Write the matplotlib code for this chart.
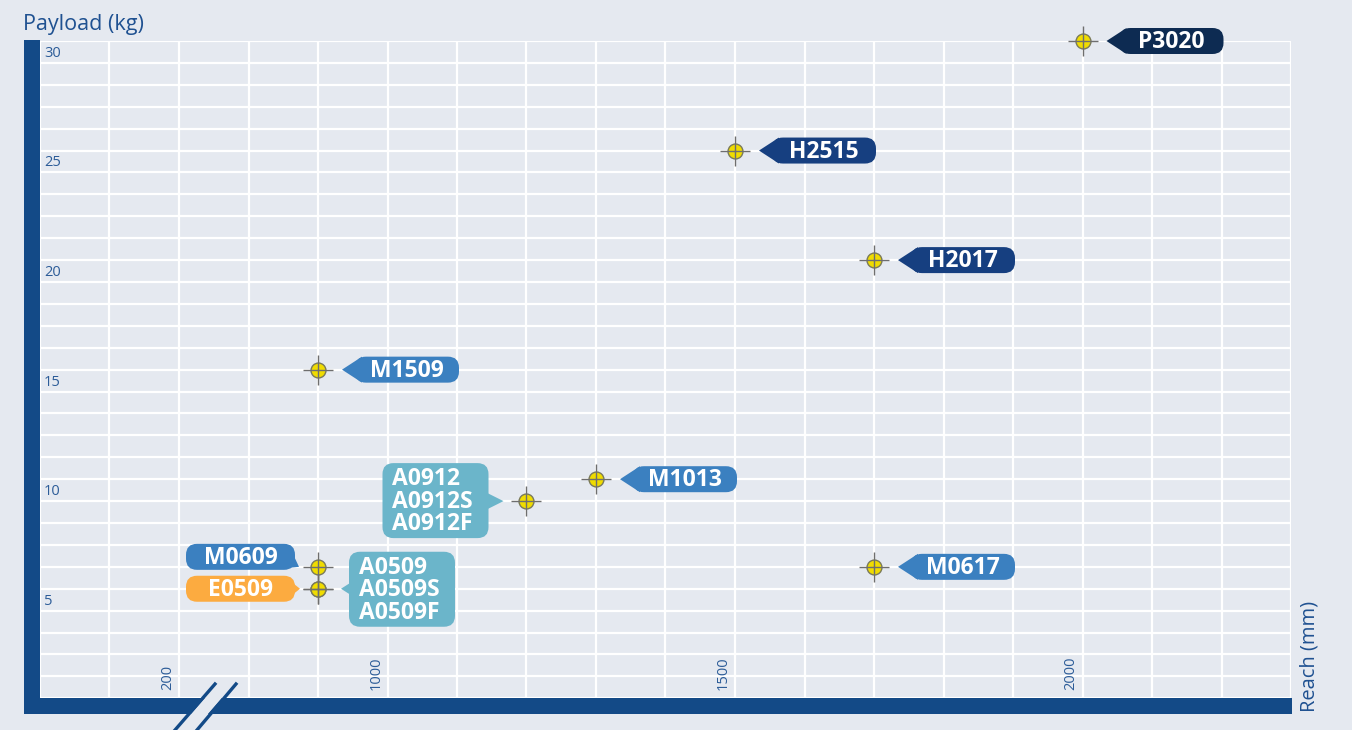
import matplotlib
matplotlib.use("Agg")
import matplotlib.pyplot as plt
import matplotlib.transforms as mtransforms
from matplotlib.patches import FancyBboxPatch, Polygon, Rectangle

# robot models: reach (mm) vs payload (kg)
models = ["P3020", "H2515", "H2017", "M1509", "M1013",
          "A0912\nA0912S\nA0912F", "M0609", "E0509", "M0617",
          "A0509\nA0509S\nA0509F"]
series = ["P", "H", "H", "M", "M", "A", "M", "E", "M", "A"]
reach = [2000, 1500, 1700, 900, 1300, 1200, 900, 900, 1700, 900]
payload = [30, 25, 20, 15, 10, 9, 6, 5, 6, 5]

xtick_pos = [700, 1000, 1500, 2000]
xtick_labels = ["200", "1000", "1500", "2000"]
ytick_vals = [5, 10, 15, 20, 25, 30]

series_colors = {"P": "#0d2b52", "H": "#163f80", "M": "#3b80c0",
                 "A": "#6bb5ca", "E": "#fcab40"}

BG = "#e5e9f0"
BAR = "#134a87"
TXT = "#2c5c98"
W, H = 1352, 730

plt.rcParams["font.family"] = ["Open Sans", "DejaVu Sans"]

fig = plt.figure(figsize=(W / 100, H / 100), dpi=100, facecolor=BG)


def fx(px):
    return px / W


def fy(py):
    return 1 - py / H


ax = fig.add_axes([fx(40), fy(698.3), fx(1291) - fx(40), fy(41) - fy(698.3)])
ax.set_facecolor(BG)
ax.set_xlim(500, 2300)
ax.set_ylim(0, 30)
ax.set_xticks(range(500, 2301, 100))
ax.set_yticks(range(0, 31))
ax.tick_params(length=0, labelbottom=False, labelleft=False)
ax.grid(True, color="white", lw=1.6, zorder=0)
ax.set_axisbelow(True)
for s in ax.spines.values():
    s.set_visible(False)

# thick axis bars
fig.add_artist(Rectangle((fx(24), fy(714.3)), fx(16), fy(40) - fy(714.3),
                         transform=fig.transFigure, color=BAR, lw=0))
fig.add_artist(Rectangle((fx(24), fy(714.3)), fx(1291.5) - fx(24), fy(698.3) - fy(714.3),
                         transform=fig.transFigure, color=BAR, lw=0))

# axis break
brk = [(177, 730), (217, 684), (234, 684), (194, 730)]
fig.add_artist(Polygon([(fx(a), fy(b)) for a, b in brk], closed=True,
                       transform=fig.transFigure, color=BG, lw=0))
for (a0, b0), (a1, b1) in [((175, 730), (215, 684)), ((197, 730), (236, 684))]:
    fig.add_artist(plt.Line2D([fx(a0), fx(a1)], [fy(b0), fy(b1)],
                              transform=fig.transFigure, color=BAR, lw=2.4))

# tick labels inside the plot
for v in ytick_vals:
    ax.annotate(str(v), xy=(0, v), xycoords=("axes fraction", "data"),
                xytext=(3, -3.5), textcoords="offset points",
                ha="left", va="top", fontsize=10.5, color=TXT)
for p, lab in zip(xtick_pos, xtick_labels):
    ax.annotate(lab, xy=(p, 0), xytext=(-3, 6), textcoords="offset points",
                rotation=90, ha="right", va="bottom", fontsize=10.5, color=TXT)

fig.text(fx(23), fy(30), "Payload (kg)", fontsize=15.5, fontweight="medium",
         color="#1f5191", ha="left", va="baseline")
fig.text(fx(1310), fy(712), "Reach (mm)", fontsize=14.5, fontweight="medium",
         color="#1f5191", rotation=90, ha="center", va="bottom")

# callout geometry in px relative to point (y up)
single_right = dict(box=(37, 141, -13, 13), tail=[(24, 0), (44, 13), (44, -13)])
layout = {
    "A0912\nA0912S\nA0912F": dict(box=(-144, -38, -37, 38),
                                   tail=[(-23, 0), (-41, 9), (-41, -9)]),
    "A0509\nA0509S\nA0509F": dict(box=(31, 137, -38, 37),
                                   tail=[(23, 0), (34, 7), (34, -7)]),
    "M0609": dict(box=(-132, -23, -3, 23),
                  tail=[(-19, 0), (-27, 17), (-40, -2)]),
    "E0509": dict(box=(-132, -23, -13, 13),
                  tail=[(-18, 0), (-28, 8), (-28, -8)]),
}


def callout(x, y, text, color, box, tail):
    tr = fig.dpi_scale_trans + mtransforms.ScaledTranslation(x, y, ax.transData)
    x0, x1, y0, y1 = [v / 100 for v in box]
    ax.add_patch(FancyBboxPatch((x0, y0), x1 - x0, y1 - y0,
                                boxstyle="round,pad=0,rounding_size=0.11",
                                transform=tr, fc=color, ec="none",
                                clip_on=False, zorder=4))
    ax.add_patch(Polygon([(a / 100, b / 100) for a, b in tail], closed=True,
                         transform=tr, fc=color, ec="none",
                         clip_on=False, zorder=4))
    if "\n" in text:
        ax.text(x0 + 0.10, (y0 + y1) / 2 - 0.01, text, transform=tr, ha="left",
                va="center", fontsize=16.5, fontweight="bold", color="white",
                linespacing=0.92, zorder=5)
    else:
        ax.text((x0 + x1) / 2, (y0 + y1) / 2 - 0.01, text, transform=tr,
                ha="center", va="center", fontsize=16.5, fontweight="bold",
                color="white", zorder=5)


for name, s, r, p in zip(models, series, reach, payload):
    geo = layout.get(name, single_right)
    callout(r, p, name, series_colors[s], geo["box"], geo["tail"])

ax.scatter(reach, payload, s=115, c="#f0dc00", edgecolors="#7a7a5a",
           linewidths=1, zorder=6, clip_on=False)
ax.scatter(reach, payload, s=470, marker="+", c="#6e6e6e", linewidths=1,
           zorder=7, clip_on=False)

fig.savefig("out.png", dpi=100, facecolor=BG)
